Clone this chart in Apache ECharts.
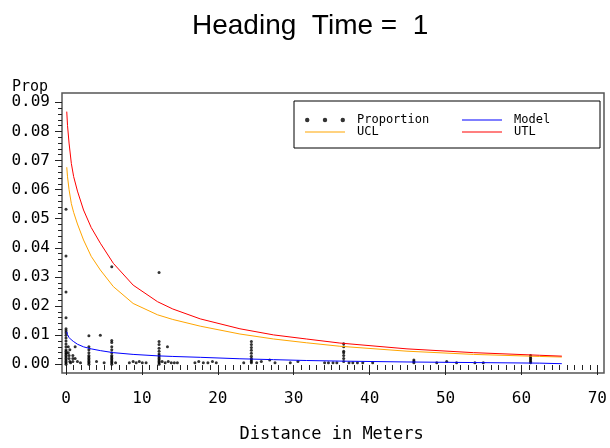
<!DOCTYPE html>
<html>
<head>
<meta charset="utf-8">
<script src="https://cdn.jsdelivr.net/npm/echarts@6/dist/echarts.min.js"></script>
<style>html,body{margin:0;padding:0;background:#fff}#c{width:610px;height:448px}</style>
</head>
<body>
<div id="c"></div>
<script>
// Observed proportions (distance in meters, proportion)
const propDist = [
  0,0,0,0,0,0,0,0,0,0,0,0,0,0,0,0,0,0,0,0,0,0,0,
  0.3,0.3,0.4,0.4,0.5,0.5,0.6,
  0.9,0.9,0.9,1.2,1.2,1.5,1.9,
  3,3,3,3,3,3,3,3,3,3,3,
  4.0,4.5,5.0,
  6,6,6,6,6,6,6,6,6,6,6,6,6,6.5,
  8.3,8.8,9.2,9.6,10.0,10.5,
  12.2,12.2,12.2,12.2,12.2,12.2,12.2,12.2,12.2,12.2,12.2,12.2,12.2,
  13.3,12.6,13.0,13.4,13.8,14.2,14.6,
  16.9,17.4,18.0,18.6,19.2,19.7,
  24.3,24.3,24.3,24.3,24.3,24.3,24.3,24.3,24.3,24.3,
  23.3,25.0,25.6,26.7,27.4,29.4,30.4,
  33.9,34.4,35.0,35.5,36.4,36.4,36.4,36.4,36.4,36.4,36.4,37.1,37.6,38.2,38.9,40.2,
  45.6,45.6,45.6,48.6,49.9,51.2,53.6,54.7,
  60.9,60.9,60.9,60.9,60.9,60.9
];
const propValue = [
  0.0533,0.0372,0.0248,0.0160,0.0122,0.0115,0.0108,0.0100,0.0090,0.0080,0.0070,0.0060,0.0050,0.0045,0.0040,0.0035,0.0030,0.0025,0.0020,0.0015,0.0010,0.0005,0.0000,
  0.0060,0.0040,0.0030,0.0020,0.0050,0.0010,0.0005,
  0.0030,0.0020,0.0010,0.0060,0.0020,0.0010,0.0005,
  0.0098,0.0060,0.0050,0.0040,0.0030,0.0025,0.0020,0.0015,0.0010,0.0005,0.0000,
  0.0010,0.0100,0.0005,
  0.0335,0.0082,0.0075,0.0060,0.0050,0.0040,0.0030,0.0025,0.0020,0.0015,0.0010,0.0005,0.0000,0.0005,
  0.0005,0.0010,0.0005,0.0010,0.0005,0.0005,
  0.0315,0.0078,0.0068,0.0055,0.0045,0.0035,0.0030,0.0025,0.0020,0.0015,0.0010,0.0005,0.0000,
  0.0060,0.0010,0.0005,0.0010,0.0005,0.0005,0.0005,
  0.0005,0.0010,0.0005,0.0005,0.0010,0.0005,
  0.0078,0.0068,0.0058,0.0048,0.0038,0.0028,0.0020,0.0015,0.0010,0.0005,
  0.0005,0.0005,0.0010,0.0015,0.0005,0.0005,0.0010,
  0.0005,0.0005,0.0005,0.0005,0.0071,0.0060,0.0045,0.0040,0.0030,0.0020,0.0010,0.0005,0.0005,0.0005,0.0005,0.0005,
  0.0015,0.0010,0.0005,0.0005,0.0010,0.0005,0.0005,0.0005,
  0.0030,0.0025,0.0020,0.0015,0.0010,0.0005
];
// Fitted curves
const curveDist = [0.1,0.2,0.4,0.7,1,1.5,2.3,3.3,4.5,6.2,8.8,12,14,17.6,22.8,27.2,31.5,35.9,44.7,53.4,62.1,65];
const modelValue = [0.0112,0.0102,0.0092,0.0084,0.0078,0.0069,0.0060,0.0053,0.0047,0.0040,0.0034,0.0029,0.0027,0.0024,0.0019,0.0016,0.0013,0.0011,0.0008,0.0006,0.0004,0.0002];
const uclValue = [0.0677,0.0644,0.0600,0.0552,0.0522,0.0482,0.0427,0.0371,0.0324,0.0267,0.0209,0.0170,0.0154,0.0131,0.0104,0.0087,0.0074,0.0062,0.0045,0.0034,0.0027,0.0025];
const utlValue = [0.0868,0.0820,0.0760,0.0690,0.0645,0.0595,0.0530,0.0470,0.0416,0.0347,0.0272,0.0215,0.0190,0.0156,0.0122,0.0101,0.0087,0.0073,0.0053,0.0040,0.0031,0.0028];
const xTicks = {min: 0, max: 70, step: 10};
const yTicks = {min: 0, max: 0.09, step: 0.01};

const zip = (a, b) => a.map((v, i) => [v, b[i]]);
const mono = 'DejaVu Sans Mono';
const chart = echarts.init(document.getElementById('c'), null, {renderer: 'canvas'});
const dotsIcon = 'path://M0,2a2,2 0 1,0 4,0a2,2 0 1,0 -4,0M16,2a2,2 0 1,0 4,0a2,2 0 1,0 -4,0M32,2a2,2 0 1,0 4,0a2,2 0 1,0 -4,0';
const lineIcon = 'path://M0,0H40V1.2H0Z';
const hiddenX = g => ({gridIndex: g, show: false, type: 'value', min: xTicks.min, max: xTicks.max});
const hiddenY = g => ({gridIndex: g, show: false, type: 'value', min: yTicks.min, max: yTicks.max});

chart.setOption({
  animation: false,
  backgroundColor: '#fff',
  title: {
    text: 'Heading  Time =  1',
    left: 192,
    top: 12,
    padding: 0,
    textStyle: {fontFamily: 'Liberation Sans', fontSize: 28, fontWeight: 'normal', color: '#000'}
  },
  legend: [
    {
      data: [{name: 'Proportion', icon: dotsIcon}, {name: 'UCL', icon: lineIcon}],
      orient: 'vertical',
      left: 294, top: 101,
      padding: [13, 133, 10, 11],
      itemWidth: 40, itemHeight: 10, itemGap: 0,
      borderColor: '#000', borderWidth: 1,
      selectedMode: false,
      textStyle: {fontFamily: mono, fontSize: 12, color: '#000', width: 110, padding: [0, 0, 0, 7], lineHeight: 11}
    },
    {
      data: [{name: 'Model', icon: lineIcon}, {name: 'UTL', icon: lineIcon}],
      orient: 'vertical',
      left: 462, top: 101,
      padding: [13, 0, 10, 0],
      itemWidth: 40, itemHeight: 10, itemGap: 0,
      selectedMode: false,
      textStyle: {fontFamily: mono, fontSize: 12, color: '#000', padding: [0, 0, 0, 7], lineHeight: 11}
    }
  ],
  grid: [
    // frame
    {left: 62, top: 93, width: 542, height: 280, show: true, borderColor: '#555', borderWidth: 1.5, backgroundColor: 'transparent'},
    // x-axis carrier: bottom edge on the frame
    {left: 66, top: 102.3, width: 534, height: 270.7},
    // y-axis carrier: left edge on the frame
    {left: 62, top: 102.3, width: 538, height: 262},
    // data area
    {left: 66, top: 102.3, width: 534, height: 262}
  ],
  xAxis: [
    hiddenX(0),
    {
      gridIndex: 1, type: 'value', min: xTicks.min, max: xTicks.max, interval: xTicks.step,
      name: 'Distance in Meters', nameLocation: 'middle', nameGap: 61,
      nameTextStyle: {fontFamily: mono, fontSize: 17, color: '#000'},
      axisLine: {show: false},
      axisTick: {show: true, inside: false, length: 10, lineStyle: {color: '#222', width: 1}},
      minorTick: {show: true, splitNumber: 10, length: 5, lineStyle: {color: '#222', width: 1}},
      splitLine: {show: false},
      axisLabel: {fontFamily: mono, fontSize: 16, color: '#000', margin: 26}
    },
    hiddenX(2),
    hiddenX(3)
  ],
  yAxis: [
    hiddenY(0),
    hiddenY(1),
    {
      gridIndex: 2, type: 'value', min: yTicks.min, max: yTicks.max, interval: yTicks.step,
      name: 'Prop', nameLocation: 'end', nameGap: 8,
      nameTextStyle: {fontFamily: mono, fontSize: 15, color: '#000', align: 'right', padding: [0, 14, 0, 0]},
      axisLine: {show: false},
      axisTick: {show: true, inside: false, length: 7, lineStyle: {color: '#222', width: 1}},
      minorTick: {show: true, splitNumber: 5, length: 4, lineStyle: {color: '#222', width: 1}},
      splitLine: {show: false},
      axisLabel: {fontFamily: mono, fontSize: 16, color: '#000', margin: 12, formatter: v => v.toFixed(2)}
    },
    hiddenY(3)
  ],
  series: [
    {
      name: 'Proportion', type: 'scatter', xAxisIndex: 3, yAxisIndex: 3,
      data: zip(propDist, propValue), symbol: 'circle', symbolSize: 3,
      itemStyle: {color: '#000'}
    },
    {
      name: 'Model', type: 'line', xAxisIndex: 3, yAxisIndex: 3,
      data: zip(curveDist, modelValue), symbol: 'none', smooth: false,
      lineStyle: {color: '#0000ff', width: 1}, itemStyle: {color: '#0000ff'}
    },
    {
      name: 'UCL', type: 'line', xAxisIndex: 3, yAxisIndex: 3,
      data: zip(curveDist, uclValue), symbol: 'none', smooth: false,
      lineStyle: {color: '#ffa500', width: 1}, itemStyle: {color: '#ffa500'}
    },
    {
      name: 'UTL', type: 'line', xAxisIndex: 3, yAxisIndex: 3,
      data: zip(curveDist, utlValue), symbol: 'none', smooth: false,
      lineStyle: {color: '#ff0000', width: 1}, itemStyle: {color: '#ff0000'}
    }
  ]
});
</script>
</body>
</html>
